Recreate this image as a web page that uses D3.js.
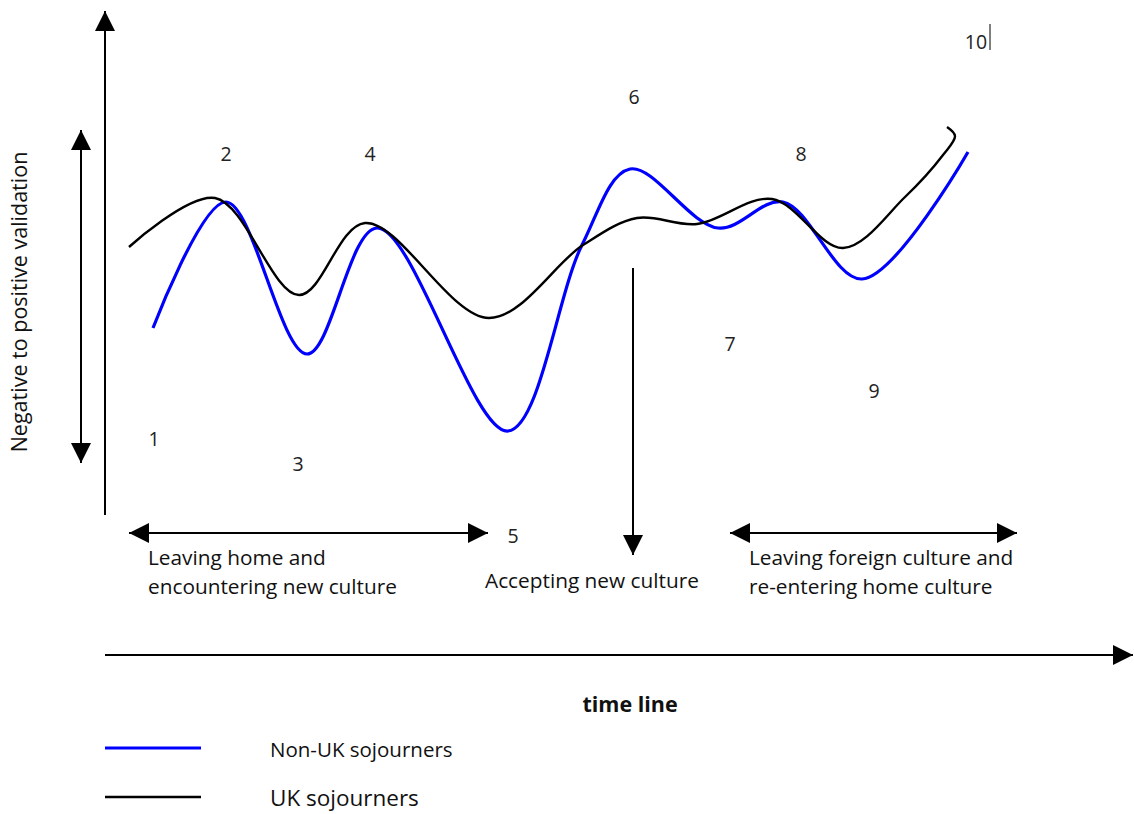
<!DOCTYPE html>
<html><head><meta charset="utf-8">
<script src="https://cdn.jsdelivr.net/npm/d3@7"></script>
<style>body{margin:0;background:#fff;} svg{display:block;font-family:"Open Sans",Lato,sans-serif;}</style>
</head><body><svg id="c" width="1134" height="814"></svg>
<script>
// time (t) and validation (v) values
const nonUK_t = [48, 121, 202, 272, 403, 477, 525, 613, 678, 757, 863];
const nonUK_v = [187, 313, 161, 287, 84, 270, 346, 287, 313, 236, 363];
const uk_t = [24, 110, 194, 260, 384, 478, 532, 592, 667, 738, 800, 838, 850, 842];
const uk_v = [268, 317, 220, 292, 197, 270, 297, 291, 316, 267, 318, 360, 379, 388];
const stageLabels = ["1","2","3","4","5","6","7","8","9","10"];
const stage_t = [49, 121, 193, 265, 408, 529, 625, 696, 769, 871];
const stage_v = [69, 354, 44, 354, -28, 411, 164, 354, 117, 466];
const seriesNames = ["Non-UK sojourners", "UK sojourners"];
const seriesColors = ["#0000ff", "#000000"];
const phaseLines1 = ["Leaving home and", "encountering new culture"];
const phaseLines2 = ["Accepting new culture"];
const phaseLines3 = ["Leaving foreign culture and", "re-entering home culture"];

const svg = d3.select("#c");
const x = d3.scaleLinear().domain([0, 1010]).range([105, 1115]);
const y = d3.scaleLinear().domain([0, 500]).range([515, 15]);

const defs = svg.append("defs");
defs.append("marker").attr("id","ah").attr("viewBox","0 0 20 20").attr("refX",20).attr("refY",10)
  .attr("markerWidth",20).attr("markerHeight",20).attr("markerUnits","userSpaceOnUse")
  .attr("orient","auto-start-reverse")
  .append("path").attr("d","M0,0 L20,10 L0,20 Z").attr("fill","#000");

function arrow(x1,y1,x2,y2,both){
  const l = svg.append("line").attr("x1",x1).attr("y1",y1).attr("x2",x2).attr("y2",y2)
    .attr("stroke","#000").attr("stroke-width",2).attr("marker-end","url(#ah)");
  if(both) l.attr("marker-start","url(#ah)");
}
// axes
arrow(x(0), y(0), x(0), 11);
arrow(x(0), 655, 1133, 655);
// validation double arrow
arrow(81, 463, 81, 130, true);
// phase arrows
arrow(129, 533, 488, 533, true);
arrow(730, 533, 1017, 533, true);
arrow(633, 268, 633, 555);

// y axis title
svg.append("text").attr("transform","translate(27,302) rotate(-90)").attr("text-anchor","middle")
  .attr("font-size",21.5).attr("fill","#111").text("Negative to positive validation");

// curves
const line = d3.line().x(d=>x(d[0])).y(d=>y(d[1])).curve(d3.curveCatmullRom.alpha(0.5));
svg.append("path").attr("d", line(nonUK_t.map((t,i)=>[t,nonUK_v[i]])))
  .attr("fill","none").attr("stroke",seriesColors[0]).attr("stroke-width",3.2);
svg.append("path").attr("d", line(uk_t.map((t,i)=>[t,uk_v[i]])))
  .attr("fill","none").attr("stroke",seriesColors[1]).attr("stroke-width",2.4);

// stage numbers
svg.selectAll("text.stage").data(stageLabels).join("text").attr("class","stage")
  .attr("x",(d,i)=>x(stage_t[i])).attr("y",(d,i)=>y(stage_v[i])).attr("text-anchor","middle")
  .attr("font-size",19.5).attr("fill","#222").text(d=>d);
// cursor after 10
svg.append("line").attr("x1",990).attr("x2",990).attr("y1",24).attr("y2",50).attr("stroke","#000").attr("stroke-width",1);

// phase texts
function block(lines, x0, y0){
  lines.forEach((s,i)=>svg.append("text").attr("x",x0).attr("y",y0+i*29).attr("font-size",20.8).attr("fill","#111").text(s));
}
block(phaseLines1, 148, 565);
block(phaseLines2, 485, 588);
block(phaseLines3, 749, 565);

svg.append("text").attr("x",630).attr("y",712).attr("text-anchor","middle").attr("font-weight","bold")
  .attr("font-size",21.5).attr("fill","#111").text("time line");

// legend
const legY = [748, 797];
seriesNames.forEach((n,i)=>{
  svg.append("line").attr("x1",105).attr("x2",201).attr("y1",legY[i]).attr("y2",legY[i])
    .attr("stroke",seriesColors[i]).attr("stroke-width",i===0?3.2:2.6);
  svg.append("text").attr("x",270).attr("y",legY[i]+9).attr("font-size",i===0?20.5:22.5).attr("fill","#111").text(n);
});
</script></body></html>
